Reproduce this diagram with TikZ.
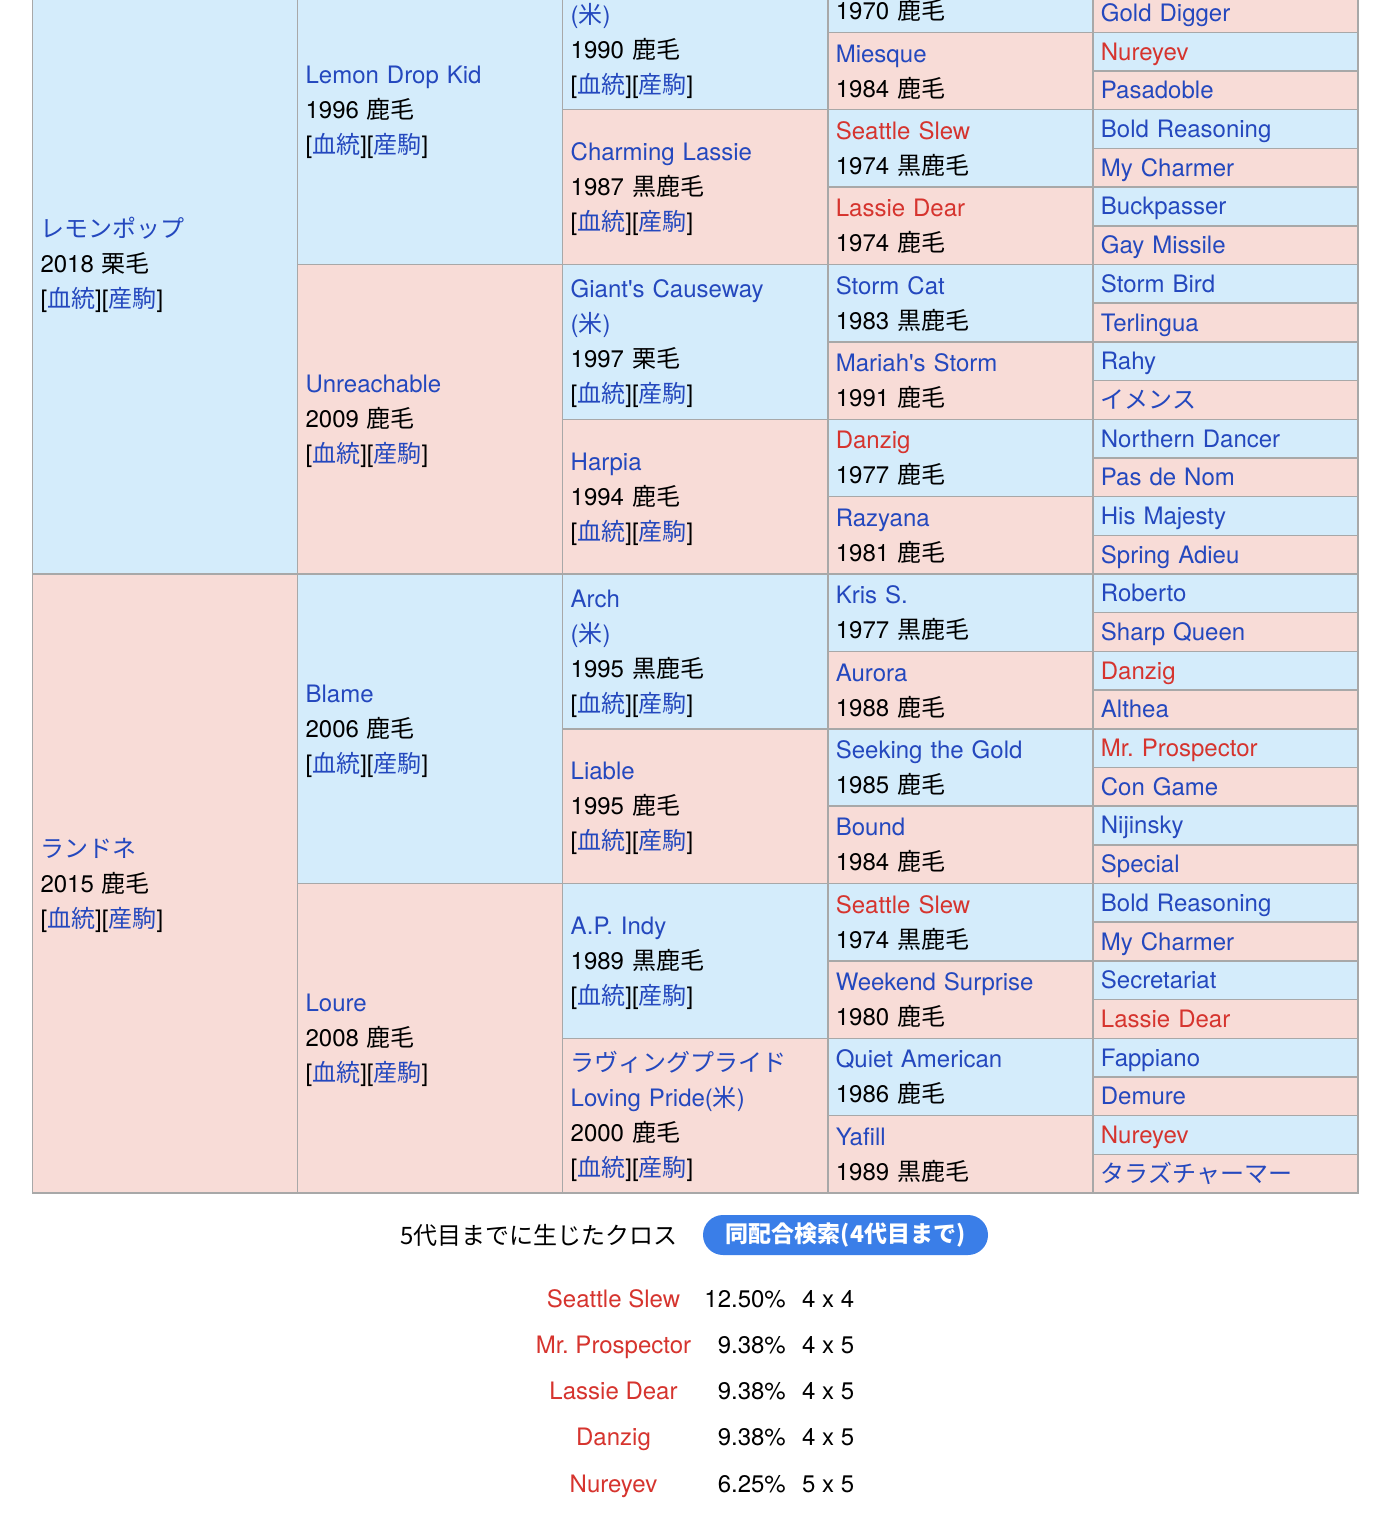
\documentclass[tikz,border=0pt]{standalone}
\usepackage{fontspec}
\setmainfont{TeX Gyre Heros}[Ligatures=TeXOff]
\newfontfamily\jpfont{Noto Sans CJK JP}
\usepackage{xcolor}
\usetikzlibrary{positioning}

\definecolor{linkblue}{RGB}{36,72,190}
\definecolor{crossred}{RGB}{214,52,46}
\definecolor{maleblue}{RGB}{212,236,251}
\definecolor{femalepink}{RGB}{248,220,215}
\definecolor{ruleline}{RGB}{168,168,168}
\definecolor{btnblue}{RGB}{58,126,232}

\newcommand\jp[1]{{\jpfont #1}}
\newcommand\hs[1]{\textcolor{linkblue}{#1}}
\newcommand\cx[1]{\textcolor{crossred}{#1}}
\newcommand\pedlinks{[\hs{\jp{血統}}][\hs{\jp{産駒}}]}
\newcommand\cellstrut{\vrule width 0pt height 26pt depth 9pt}
\frenchspacing

\begin{document}
\begin{tikzpicture}[x=1pt,y=-1pt,
  cell/.style={draw=ruleline,line width=1.5pt,outer sep=0pt,inner xsep=8pt,inner ysep=0pt,
    text width=249.1pt,align=left,anchor=north west,font=\fontsize{24}{35}\selectfont,
    execute at begin node=\cellstrut,execute at end node=\cellstrut},
  sire/.style={cell,fill=maleblue},
  dam/.style={cell,fill=femalepink},
  g1/.style={minimum height=619pt},
  g2/.style={minimum height=309.5pt},
  g3/.style={minimum height=154.75pt},
  g4/.style={minimum height=77.375pt},
  g5/.style={minimum height=38.6875pt},
  crossname/.style={anchor=base,inner sep=0pt,text=crossred,font=\fontsize{24}{30}\selectfont},
  share/.style={anchor=base east,inner sep=0pt,font=\fontsize{24}{30}\selectfont},
  gens/.style={anchor=base west,inner sep=0pt,font=\fontsize{24}{30}\selectfont},
  searchbtn/.style={fill=btnblue,rounded corners=20pt,minimum width=285pt,minimum height=40pt,
    inner sep=0pt,text=white,font=\jpfont\bfseries\fontsize{23}{28}\selectfont}]
  \useasboundingbox (0,0) rectangle (1383,1522);
  \fill[white] (0,0) rectangle (1383,1522);
  \clip (0,0) rectangle (1383,1522);

  % 1st generation
  \node[sire,g1] (s) at (32.5,-45) {\hs{\jp{レモンポップ}}\\2018 \jp{栗毛}\\\pedlinks};
  \node[dam,g1,below=0pt of s] (d) {\hs{\jp{ランドネ}}\\2015 \jp{鹿毛}\\\pedlinks};

  % 2nd generation
  \node[sire,g2] (ss) at (s.north east) {\hs{Lemon Drop Kid}\\1996 \jp{鹿毛}\\\pedlinks};
  \node[dam,g2,below=0pt of ss] (sd) {\hs{Unreachable}\\2009 \jp{鹿毛}\\\pedlinks};
  \node[sire,g2,below=0pt of sd] (ds) {\hs{Blame}\\2006 \jp{鹿毛}\\\pedlinks};
  \node[dam,g2,below=0pt of ds] (dd) {\hs{Loure}\\2008 \jp{鹿毛}\\\pedlinks};

  % 3rd generation
  \node[sire,g3] (sss) at (ss.north east) {\mbox{}\\\hs{(\jp{米})}\\1990 \jp{鹿毛}\\\pedlinks};
  \node[dam,g3,below=0pt of sss] (ssd) {\hs{Charming Lassie}\\1987 \jp{黒鹿毛}\\\pedlinks};
  \node[sire,g3,below=0pt of ssd] (sds) {\hs{Giant's Causeway}\\\hs{(\jp{米})}\\1997 \jp{栗毛}\\\pedlinks};
  \node[dam,g3,below=0pt of sds] (sdd) {\hs{Harpia}\\1994 \jp{鹿毛}\\\pedlinks};
  \node[sire,g3,below=0pt of sdd] (dss) {\hs{Arch}\\\hs{(\jp{米})}\\1995 \jp{黒鹿毛}\\\pedlinks};
  \node[dam,g3,below=0pt of dss] (dsd) {\hs{Liable}\\1995 \jp{鹿毛}\\\pedlinks};
  \node[sire,g3,below=0pt of dsd] (dds) {\hs{A.P. Indy}\\1989 \jp{黒鹿毛}\\\pedlinks};
  \node[dam,g3,below=0pt of dds] (ddd) {\hs{\jp{ラヴィングプライド}}\\\hs{Loving Pride(\jp{米})}\\2000 \jp{鹿毛}\\\pedlinks};

  % 4th generation
  \node[sire,g4] (ssss) at (sss.north east) {\mbox{}\\1970 \jp{鹿毛}};
  \node[dam,g4,below=0pt of ssss] (sssd) {\hs{Miesque}\\1984 \jp{鹿毛}};
  \node[sire,g4,below=0pt of sssd] (ssds) {\cx{Seattle Slew}\\1974 \jp{黒鹿毛}};
  \node[dam,g4,below=0pt of ssds] (ssdd) {\cx{Lassie Dear}\\1974 \jp{鹿毛}};
  \node[sire,g4,below=0pt of ssdd] (sdss) {\hs{Storm Cat}\\1983 \jp{黒鹿毛}};
  \node[dam,g4,below=0pt of sdss] (sdsd) {\hs{Mariah's Storm}\\1991 \jp{鹿毛}};
  \node[sire,g4,below=0pt of sdsd] (sdds) {\cx{Danzig}\\1977 \jp{鹿毛}};
  \node[dam,g4,below=0pt of sdds] (sddd) {\hs{Razyana}\\1981 \jp{鹿毛}};
  \node[sire,g4,below=0pt of sddd] (dsss) {\hs{Kris S.}\\1977 \jp{黒鹿毛}};
  \node[dam,g4,below=0pt of dsss] (dssd) {\hs{Aurora}\\1988 \jp{鹿毛}};
  \node[sire,g4,below=0pt of dssd] (dsds) {\hs{Seeking the Gold}\\1985 \jp{鹿毛}};
  \node[dam,g4,below=0pt of dsds] (dsdd) {\hs{Bound}\\1984 \jp{鹿毛}};
  \node[sire,g4,below=0pt of dsdd] (ddss) {\cx{Seattle Slew}\\1974 \jp{黒鹿毛}};
  \node[dam,g4,below=0pt of ddss] (ddsd) {\hs{Weekend Surprise}\\1980 \jp{鹿毛}};
  \node[sire,g4,below=0pt of ddsd] (ddds) {\hs{Quiet American}\\1986 \jp{鹿毛}};
  \node[dam,g4,below=0pt of ddds] (dddd) {\hs{Yafill}\\1989 \jp{黒鹿毛}};

  % 5th generation
  \node[sire,g5] (sssss) at (ssss.north east) {};
  \node[dam,g5,below=0pt of sssss] (ssssd) {\hs{Gold Digger}};
  \node[sire,g5,below=0pt of ssssd] (sssds) {\cx{Nureyev}};
  \node[dam,g5,below=0pt of sssds] (sssdd) {\hs{Pasadoble}};
  \node[sire,g5,below=0pt of sssdd] (ssdss) {\hs{Bold Reasoning}};
  \node[dam,g5,below=0pt of ssdss] (ssdsd) {\hs{My Charmer}};
  \node[sire,g5,below=0pt of ssdsd] (ssdds) {\hs{Buckpasser}};
  \node[dam,g5,below=0pt of ssdds] (ssddd) {\hs{Gay Missile}};
  \node[sire,g5,below=0pt of ssddd] (sdsss) {\hs{Storm Bird}};
  \node[dam,g5,below=0pt of sdsss] (sdssd) {\hs{Terlingua}};
  \node[sire,g5,below=0pt of sdssd] (sdsds) {\hs{Rahy}};
  \node[dam,g5,below=0pt of sdsds] (sdsdd) {\hs{\jp{イメンス}}};
  \node[sire,g5,below=0pt of sdsdd] (sddss) {\hs{Northern Dancer}};
  \node[dam,g5,below=0pt of sddss] (sddsd) {\hs{Pas de Nom}};
  \node[sire,g5,below=0pt of sddsd] (sddds) {\hs{His Majesty}};
  \node[dam,g5,below=0pt of sddds] (sdddd) {\hs{Spring Adieu}};
  \node[sire,g5,below=0pt of sdddd] (dssss) {\hs{Roberto}};
  \node[dam,g5,below=0pt of dssss] (dsssd) {\hs{Sharp Queen}};
  \node[sire,g5,below=0pt of dsssd] (dssds) {\cx{Danzig}};
  \node[dam,g5,below=0pt of dssds] (dssdd) {\hs{Althea}};
  \node[sire,g5,below=0pt of dssdd] (dsdss) {\cx{Mr. Prospector}};
  \node[dam,g5,below=0pt of dsdss] (dsdsd) {\hs{Con Game}};
  \node[sire,g5,below=0pt of dsdsd] (dsdds) {\hs{Nijinsky}};
  \node[dam,g5,below=0pt of dsdds] (dsddd) {\hs{Special}};
  \node[sire,g5,below=0pt of dsddd] (ddsss) {\hs{Bold Reasoning}};
  \node[dam,g5,below=0pt of ddsss] (ddssd) {\hs{My Charmer}};
  \node[sire,g5,below=0pt of ddssd] (ddsds) {\hs{Secretariat}};
  \node[dam,g5,below=0pt of ddsds] (ddsdd) {\cx{Lassie Dear}};
  \node[sire,g5,below=0pt of ddsdd] (dddss) {\hs{Fappiano}};
  \node[dam,g5,below=0pt of dddss] (dddsd) {\hs{Demure}};
  \node[sire,g5,below=0pt of dddsd] (dddds) {\cx{Nureyev}};
  \node[dam,g5,below=0pt of dddds] (ddddd) {\hs{\jp{タラズチャーマー}}};

  % crosses
  \node[anchor=west,inner sep=0pt,font=\jpfont\fontsize{24}{30}\selectfont] (crosstitle) at (400,1235) {5代目までに生じたクロス};
  \node[searchbtn] (search) at (845.5,1235) {同配合検索(4代目まで)};

  \node[crossname] (x1) at (613.5,1307) {Seattle Slew};
  \node[share] (p1) at (786,1307) {12.50\%};
  \node[gens] (n1) at (802,1307) {4 x 4};
  \node[crossname] (x2) at (613.5,1353) {Mr. Prospector};
  \node[share] (p2) at (786,1353) {9.38\%};
  \node[gens] (n2) at (802,1353) {4 x 5};
  \node[crossname] (x3) at (613.5,1399) {Lassie Dear};
  \node[share] (p3) at (786,1399) {9.38\%};
  \node[gens] (n3) at (802,1399) {4 x 5};
  \node[crossname] (x4) at (613.5,1445) {Danzig};
  \node[share] (p4) at (786,1445) {9.38\%};
  \node[gens] (n4) at (802,1445) {4 x 5};
  \node[crossname] (x5) at (613.5,1492) {Nureyev};
  \node[share] (p5) at (786,1492) {6.25\%};
  \node[gens] (n5) at (802,1492) {5 x 5};
\end{tikzpicture}
\end{document}
